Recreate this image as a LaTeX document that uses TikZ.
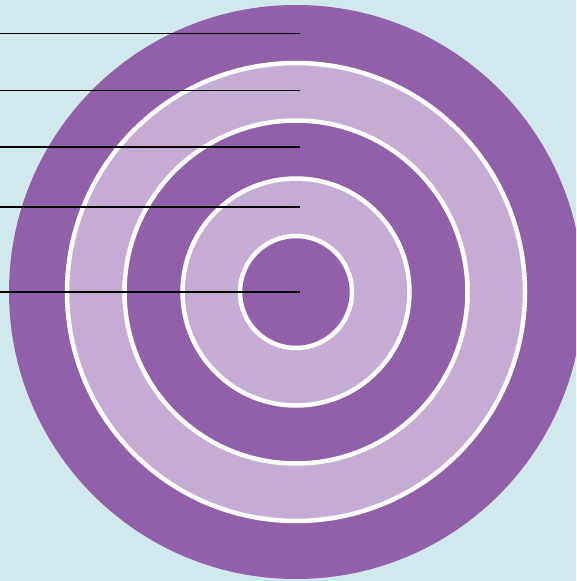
\documentclass[tikz,border=0pt]{standalone}
\definecolor{bgcyan}{HTML}{CFE9EC}
\definecolor{darkpurple}{HTML}{9260A8}
\definecolor{lightpurple}{HTML}{C5ACD4}
\tikzset{
  ringdark/.style={fill=darkpurple, draw=white, line width=4.5pt},
  ringlight/.style={fill=lightpurple, draw=white, line width=4.5pt},
  leader/.style={draw=black, line width=1.2pt}
}
\begin{document}
\begin{tikzpicture}[x=1pt,y=-1pt]
  \fill[bgcyan] (0,0) rectangle (576,581);
  \useasboundingbox (0,0) rectangle (576,581);
  \begin{scope}
    \clip (0,0) rectangle (576,581);
    \coordinate (c) at (296,292);
    \fill[darkpurple] (c) circle[radius=287];
    \path[ringlight] (c) circle[radius=229];
    \path[ringdark] (c) circle[radius=171.5];
    \path[ringlight] (c) circle[radius=113.5];
    \path[ringdark] (c) circle[radius=56];
  \end{scope}
  \foreach \i/\y in {1/33.3,2/90.3,3/147,4/207,5/292}{
    \coordinate (l\i) at (0,\y);
    \coordinate (r\i) at (300,\y);
    \path[leader] (l\i) -- (r\i);
  }
\end{tikzpicture}
\end{document}
